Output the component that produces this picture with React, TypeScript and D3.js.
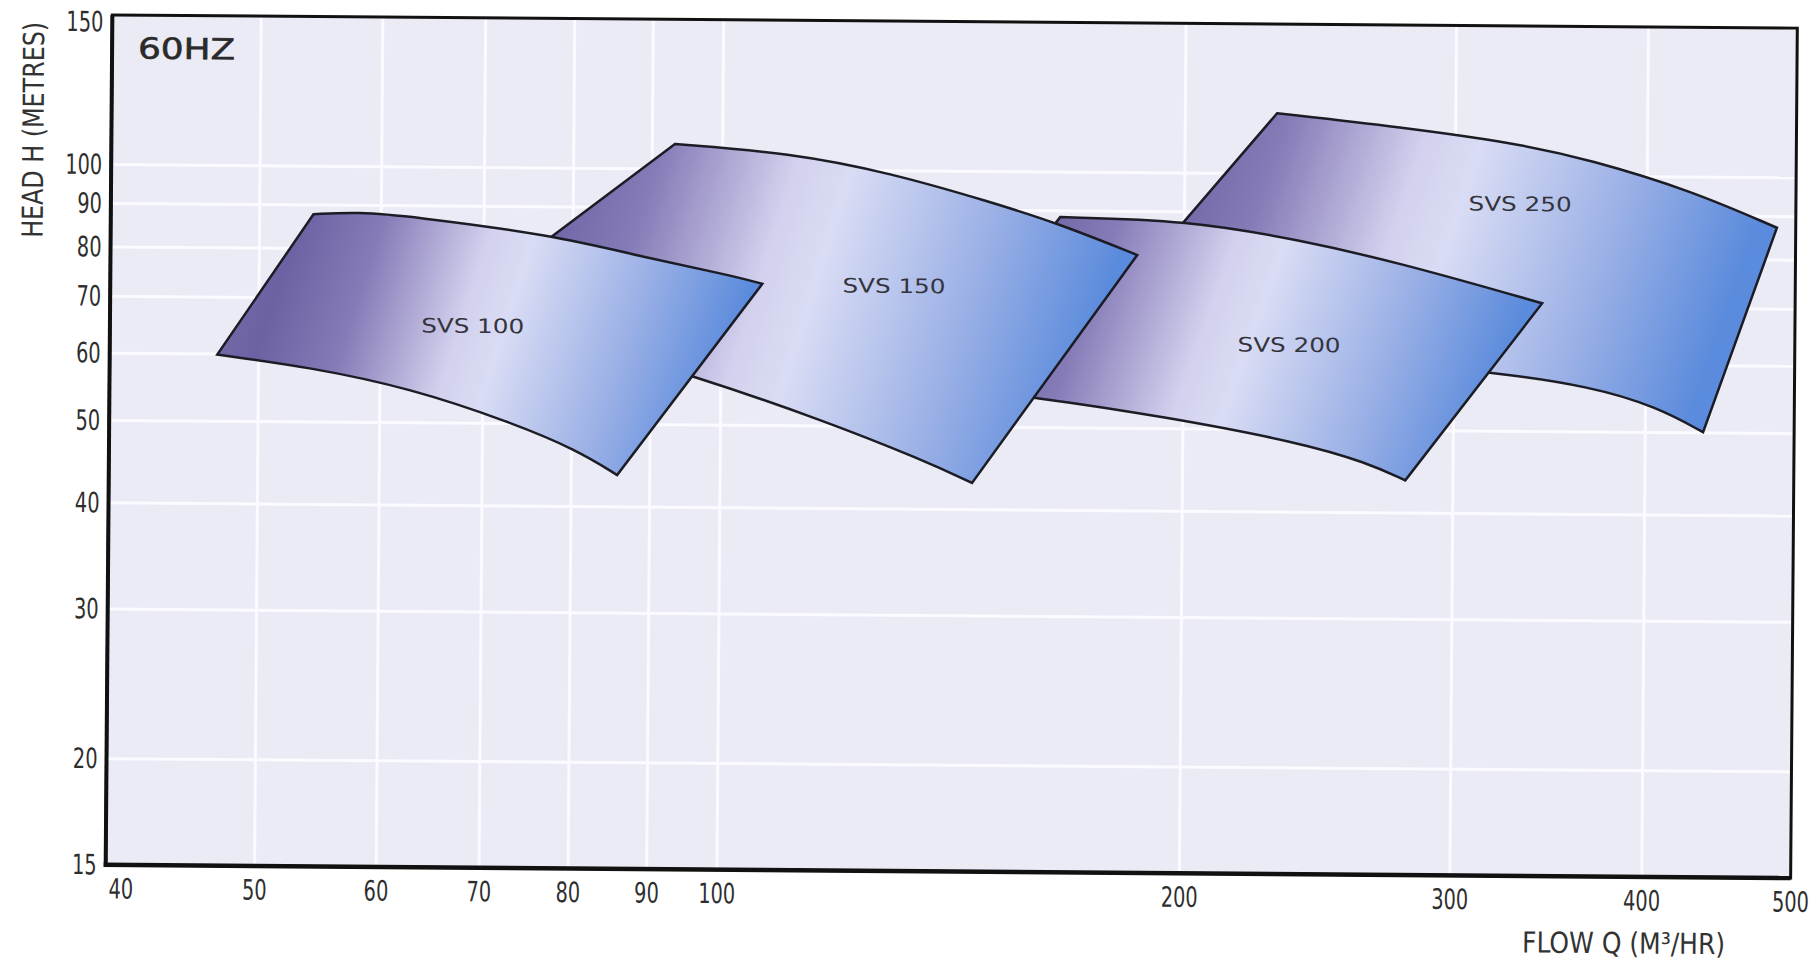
import React from 'react';
import * as d3 from 'd3';

// axis ticks
const flowTicks = [40, 50, 60, 70, 80, 90, 100, 200, 300, 400, 500];
const headTicks = [15, 20, 30, 40, 50, 60, 70, 80, 90, 100, 150];

// pump envelopes: [flow m3/hr, head m] along max (top) and min (bottom) curves
const svs100Top = [[54.2, 87.8], [58.0, 88.4], [62.6, 87.5], [77.6, 83.4], [88.9, 78.7], [101.3, 75.1], [106.3, 73.4]];
const svs100Bottom = [[47.0, 59.9], [54.0, 58.0], [62.8, 54.9], [73.0, 50.2], [80.7, 46.6], [85.7, 43.6]];
const svs150Top = [[93.1, 107.0], [110.6, 104.7], [128.6, 99.4], [149.4, 92.1], [165.2, 87.1], [186.4, 80.0]];
const svs150Bottom = [[66.6, 67.4], [78.5, 63.4], [96.5, 57.0], [116.6, 50.8], [135.5, 45.7], [145.9, 43.0]];
const svs200Top = [[166.0, 88.5], [200.8, 88.0], [237.9, 83.6], [276.5, 78.7], [331.0, 72.0], [342.2, 70.8]];
const svs200Bottom = [[136.8, 55.9], [160.7, 54.3], [195.3, 51.6], [238.5, 48.3], [263.7, 45.8], [279.3, 43.7]];
const svs250Top = [[229.5, 117.8], [276.0, 113.8], [330.4, 109.0], [367.1, 104.5], [426.6, 96.5], [486.1, 87.3]];
const svs250Bottom = [[169.2, 61.4], [221.0, 60.7], [276.8, 59.7], [318.2, 58.7], [368.1, 56.6], [407.0, 53.6], [436.2, 50.1]];

// label anchors [flow, head]
const pumpNames = ['SVS 250', 'SVS 200', 'SVS 150', 'SVS 100'];
const labelFlow = [330.7, 234.3, 129.5, 68.9];
const labelHead = [92.6, 62.9, 73.2, 65.1];
const topCurves = [svs250Top, svs200Top, svs150Top, svs100Top];
const bottomCurves = [svs250Bottom, svs200Bottom, svs150Bottom, svs100Bottom];

const W = 1818;
const H = 964;
const left = 109, right = 1794, top = 21.5, bottom = 871.5;
const narrow = "'Liberation Sans Narrow', 'Arial Narrow', 'DejaVu Sans Condensed', sans-serif";
const wide = "'DejaVu Sans', Verdana, sans-serif";

export default function App() {
  const x = d3.scaleLog().domain([40, 500]).range([left, right]);
  const y = d3.scaleLog().domain([15, 150]).range([bottom, top]);

  // basis spline keeps the end corners and smooths the read-off points
  const line = d3.line<number[]>()
    .x(d => x(d[0]))
    .y(d => y(d[1]))
    .curve(d3.curveBasis);

  const shape = (t: number[][], b: number[][]) =>
    (line(t) || '') + (line([...b].reverse()) || '').replace(/^M/, 'L') + 'Z';

  return (
    <svg width={W} height={H} style={{ position: 'absolute', left: 0, top: 0, background: '#fff' }}>
      <defs>
        <linearGradient id="pumpFill" x1="0" y1="0" x2="1" y2="0.15">
          <stop offset="0" stopColor="#7a70ae" />
          <stop offset="0.15" stopColor="#6c62a3" />
          <stop offset="0.3" stopColor="#857bb7" />
          <stop offset="0.5" stopColor="#d3d1ee" />
          <stop offset="0.58" stopColor="#d9dcf4" />
          <stop offset="0.8" stopColor="#9cb1e6" />
          <stop offset="1" stopColor="#5b8bdc" />
        </linearGradient>
      </defs>
      <g transform="rotate(0.45, 951.5, 446.5)">
        <rect x={left} y={top} width={right - left} height={bottom - top} fill="#ebebf6" />
        {flowTicks.slice(1, -1).map(t => (
          <line key={'gx' + t} x1={x(t)} x2={x(t)} y1={top} y2={bottom} stroke="#fafaff" strokeWidth={3} />
        ))}
        {headTicks.slice(1, -1).map(t => (
          <line key={'gy' + t} x1={left} x2={right} y1={y(t)} y2={y(t)} stroke="#fafaff" strokeWidth={3} />
        ))}

        {pumpNames.map((name, i) => (
          <path key={name} d={shape(topCurves[i], bottomCurves[i])} fill="url(#pumpFill)"
            stroke="#1c1c24" strokeWidth={2.5} strokeLinejoin="miter" />
        ))}
        {pumpNames.map((name, i) => (
          <text key={'l' + name} x={x(labelFlow[i])} y={y(labelHead[i])} textAnchor="middle"
            dominantBaseline="central" fontFamily={wide} fontSize={20} fill="#34343c"
            textLength={103} lengthAdjust="spacingAndGlyphs">{name}</text>
        ))}

        <rect x={left} y={top} width={right - left} height={bottom - top} fill="none" stroke="#111" strokeWidth={3} />
        <line x1={left} x2={left} y1={top} y2={bottom + 2} stroke="#111" strokeWidth={4} />
        <line x1={left - 2} x2={right} y1={bottom} y2={bottom} stroke="#111" strokeWidth={4.5} />

        <text x={135} y={65} fontFamily={wide} fontSize={29} fill="#2a2a2a" stroke="#2a2a2a"
          strokeWidth={0.6} textLength={97} lengthAdjust="spacingAndGlyphs">60HZ</text>

        {headTicks.map(t => (
          <text key={'ty' + t} x={left - 9} y={Math.max(y(t), top + 7)} textAnchor="end" dominantBaseline="central"
            fontFamily={narrow} fontSize={28} fill="#2e2e2e"
            textLength={String(t).length * 12.3} lengthAdjust="spacingAndGlyphs">{t}</text>
        ))}
        {flowTicks.map((t, i) => (
          <text key={'tx' + t} x={i === 0 ? x(t) + 3 : x(t)} y={905} textAnchor={i === 0 ? 'start' : 'middle'}
            fontFamily={narrow} fontSize={28} fill="#2e2e2e"
            textLength={String(t).length * 12.3} lengthAdjust="spacingAndGlyphs">{t}</text>
        ))}

        <text transform="translate(41,137) rotate(-90)" textAnchor="middle" fontFamily={narrow} fontSize={29}
          fill="#333" textLength={216} lengthAdjust="spacingAndGlyphs">HEAD H (METRES)</text>
        <text x={1526} y={948} fontFamily={narrow} fontSize={29} fill="#333"
          textLength={203} lengthAdjust="spacingAndGlyphs">FLOW Q (M³/HR)</text>
      </g>
    </svg>
  );
}
